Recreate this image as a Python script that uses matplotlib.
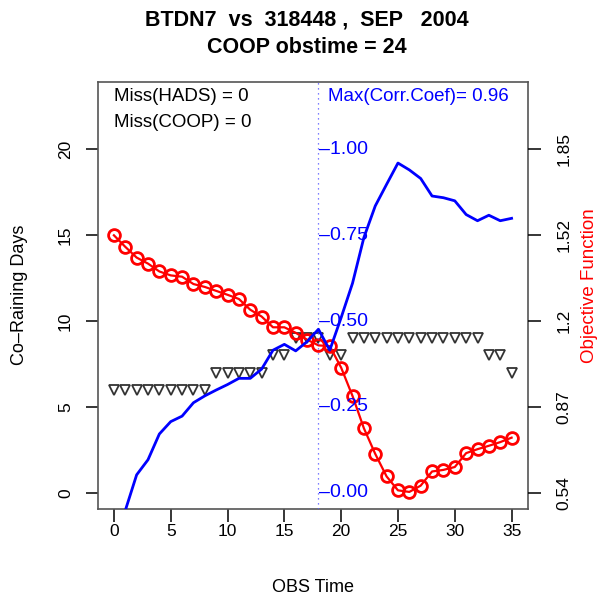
import numpy as np
import matplotlib
matplotlib.use("Agg")
import matplotlib.pyplot as plt

plt.rcParams['font.family'] = ['Liberation Sans', 'DejaVu Sans']

# ---------------- data ----------------
obs_time = list(range(36))
co_raining = [6, 6, 6, 6, 6, 6, 6, 6, 6,
              7, 7, 7, 7, 7,
              8, 8,
              9, 9, 9,
              8, 8,
              9, 9, 9, 9, 9, 9, 9, 9, 9, 9, 9, 9,
              8, 8,
              7]
objective = [1.522, 1.478, 1.437, 1.414, 1.384, 1.369, 1.364, 1.336, 1.325,
             1.310, 1.295, 1.279, 1.238, 1.212, 1.171, 1.171, 1.150, 1.124,
             1.102, 1.099, 1.017, 0.909, 0.786, 0.688, 0.602, 0.549, 0.543,
             0.567, 0.621, 0.627, 0.638, 0.691, 0.706, 0.719, 0.733, 0.750]
corr_coef = [-0.20, -0.052, 0.052, 0.096, 0.171, 0.207, 0.223, 0.262, 0.282,
             0.299, 0.315, 0.333, 0.333, 0.360, 0.415, 0.432, 0.413, 0.440,
             0.476, 0.415, 0.510, 0.610, 0.743, 0.835, 0.898, 0.960, 0.940,
             0.915, 0.864, 0.859, 0.850, 0.810, 0.792, 0.808, 0.792, 0.799]
left_ticks = [0, 5, 10, 15, 20]
x_ticks = [0, 5, 10, 15, 20, 25, 30, 35]
obj_tick_labels = ["0.54", "0.87", "1.2", "1.52", "1.85"]
corr_ticks = [0.0, 0.25, 0.50, 0.75, 1.00]
corr_tick_labels = ["0.00", "0.25", "0.50", "0.75", "1.00"]
best_time = 18
title = "BTDN7  vs  318448 ,  SEP   2004\nCOOP obstime = 24"

# ---------------- layout ----------------
fig = plt.figure(figsize=(5.97, 5.99), dpi=100)
W, H = 597, 599
L, R, T, B = 98, 527.5, 82, 508.5
ax = fig.add_axes([L / W, 1 - B / H, (R - L) / W, (B - T) / H])

xlim = (-1.4, 36.4)
ylim = (-0.92, 23.92)
ax.set_xlim(*xlim)
ax.set_ylim(*ylim)

# objective axis: 0.54 -> 0 , 1.85 -> 20 on left scale
o_lo, o_hi = 0.54, 1.85
k = (o_hi - o_lo) / 20.0
ax2 = ax.twinx()
ax2.set_ylim(o_lo + ylim[0] * k, o_lo + ylim[1] * k)
ax3 = ax.twinx()
ax3.set_ylim(ylim[0] / 20.0, ylim[1] / 20.0)

spine_col = '#555555'
for s in ax.spines.values():
    s.set_color(spine_col)
    s.set_linewidth(1.2)
for s in ax2.spines.values():
    s.set_visible(False)
for s in ax3.spines.values():
    s.set_visible(False)
ax3.set_yticks([])

# ticks
ax.set_xticks(x_ticks)
ax.set_yticks(left_ticks)
ax.tick_params(axis='x', length=9, width=1.1, pad=2.5, labelsize=12.5, colors='black')
ax.tick_params(axis='y', length=9, width=1.1, pad=9, labelsize=12.5, labelrotation=90,
               colors='black')
for lab in ax.get_yticklabels():
    lab.set_verticalalignment('center')

ax2.set_yticks(list(np.linspace(o_lo, o_hi, 5)))
ax2.set_yticklabels(obj_tick_labels)
ax2.tick_params(axis='y', length=9, width=1.1, pad=12, labelsize=12.5, labelrotation=90,
                colors='black')
for lab in ax2.get_yticklabels():
    lab.set_verticalalignment('center')

# ---------------- marks ----------------
ax.plot(obs_time, co_raining, linestyle='none', marker='v', markersize=7.5,
        markerfacecolor='none', markeredgecolor='#333333', markeredgewidth=1.3, zorder=3)

ax2.plot(obs_time, objective, color='#ff0000', linewidth=1.6, marker='o', markersize=8.5,
         markerfacecolor='none', markeredgecolor='#ff0000', markeredgewidth=2.0, zorder=3)

ax3.axvline(best_time, color='#5555ff', linewidth=0.9, linestyle=(0, (1, 3)), zorder=1)
ax3.plot(obs_time, corr_coef, color='#0000ff', linewidth=2.0, zorder=4)

for v, lab in zip(corr_ticks, corr_tick_labels):
    ax3.text(best_time + 0.05, v, "\u2013" + lab, color='#0000ff', fontsize=14,
             ha='left', va='center', zorder=5)

# ---------------- text ----------------
ax.text(0.0, 23.05, "Miss(HADS) = 0", fontsize=13.5, ha='left', va='center')
ax.text(0.0, 21.55, "Miss(COOP) = 0", fontsize=13.5, ha='left', va='center')
ax3.text(best_time + 0.8, 23.05 / 20.0, "Max(Corr.Coef)= 0.96", fontsize=13.5,
         color='#0000ff', ha='left', va='center')

fig.text(307 / W, 1 - 34 / H, title, fontsize=15.5, fontweight='bold',
         ha='center', va='center', linespacing=1.4)
fig.text((L + R) / 2 / W, 1 - 588 / H, "OBS Time", fontsize=13, ha='center', va='center')
fig.text(20 / W, 1 - (L + 197) / H, "Co\u2013Raining Days", fontsize=13, rotation=90,
         ha='center', va='center')
fig.text(589 / W, 1 - 286 / H, "Objective Function", fontsize=13.5, rotation=90,
         color='#ff0000', ha='center', va='center')

fig.savefig("out.png", dpi=100)
